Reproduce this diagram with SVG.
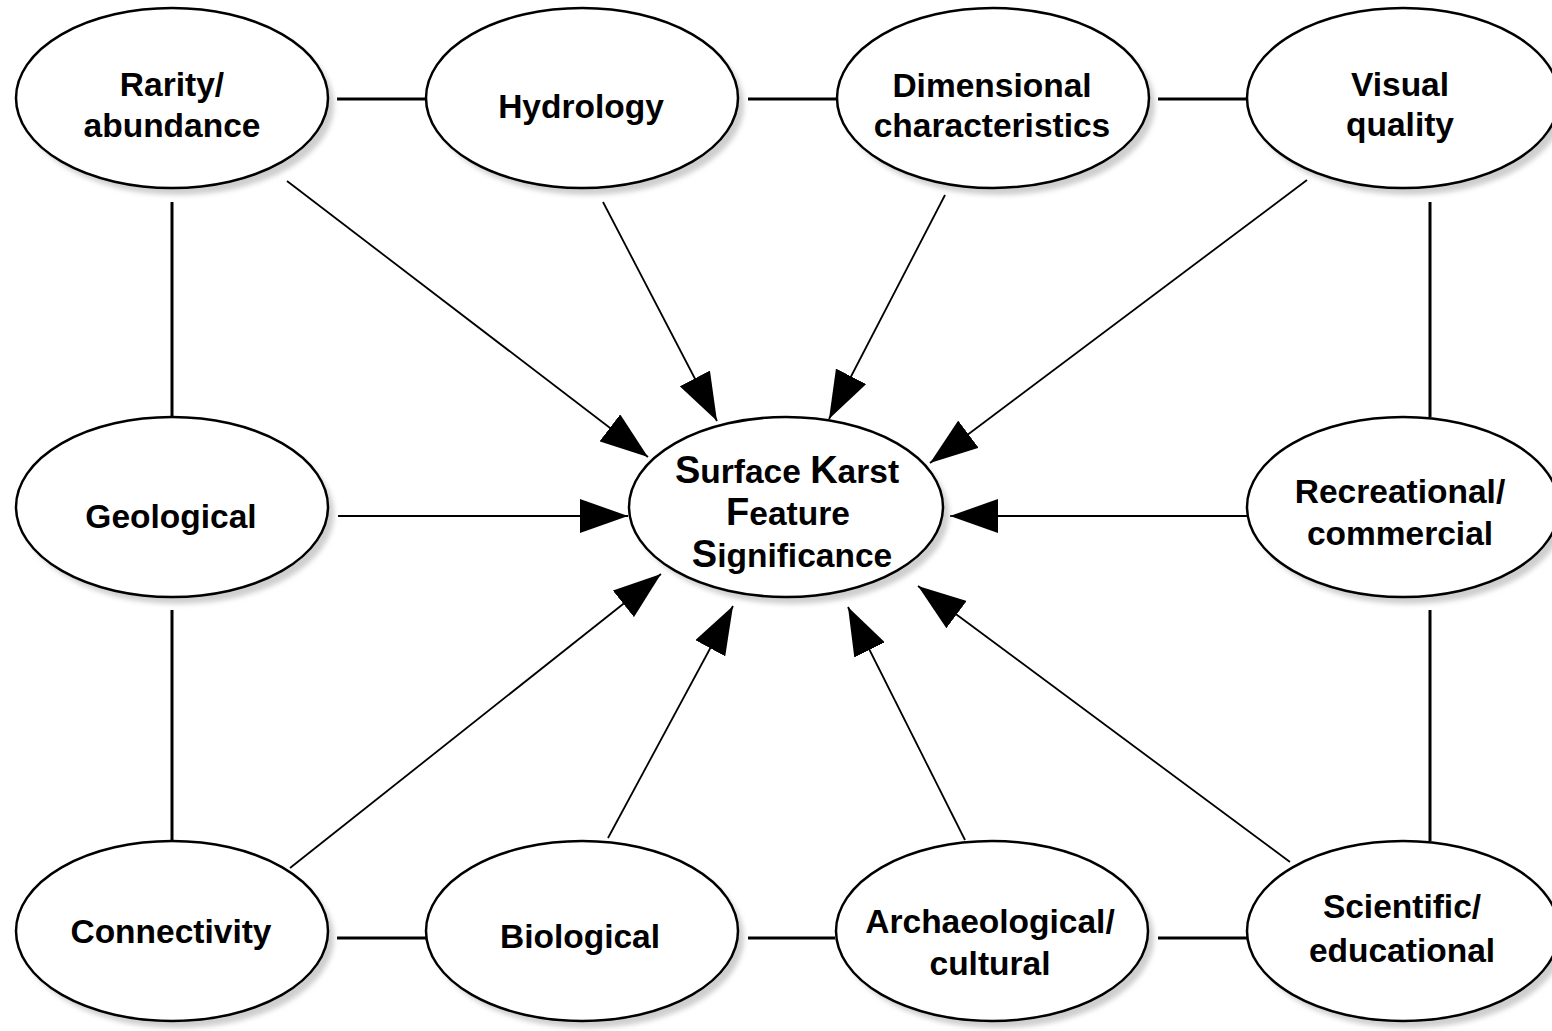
<svg xmlns="http://www.w3.org/2000/svg" width="1552" height="1031" viewBox="0 0 1552 1031">
<style>
.node ellipse.b{fill:#fff;stroke:#000;stroke-width:2.5}
.node ellipse.s{fill:#cfcfcf;filter:url(#blur)}
.node text{font-family:"Liberation Sans",Arial,sans-serif;font-weight:bold;font-size:33.5px;fill:#000;text-anchor:middle}
.link{stroke:#000;stroke-width:3;fill:none}
.arr{stroke:#000;stroke-width:1.8;fill:none;marker-end:url(#ah)}
.big{font-size:38px}
</style>
<defs>
<filter id="blur" x="-10%" y="-10%" width="120%" height="120%"><feGaussianBlur stdDeviation="2.5"/></filter>
<marker id="ah" markerUnits="userSpaceOnUse" markerWidth="48" markerHeight="34" refX="48" refY="17" orient="auto">
<path d="M0,0 L48,17 L0,34 Z" fill="#000"/>
</marker>
</defs>
<rect width="1552" height="1031" fill="#fff"/>

<g id="connectors">
<line class="link" x1="337" y1="99" x2="427" y2="99"/>
<line class="link" x1="748" y1="99" x2="837" y2="99"/>
<line class="link" x1="1158" y1="99" x2="1247" y2="99"/>
<line class="link" x1="337" y1="938" x2="427" y2="938"/>
<line class="link" x1="748" y1="938" x2="835" y2="938"/>
<line class="link" x1="1158" y1="938" x2="1247" y2="938"/>
<line class="link" x1="172" y1="202" x2="172" y2="417"/>
<line class="link" x1="172" y1="610" x2="172" y2="841"/>
<line class="link" x1="1430" y1="202" x2="1430" y2="417"/>
<line class="link" x1="1430" y1="610" x2="1430" y2="841"/>
<line class="arr" x1="287" y1="181" x2="648" y2="457"/>
<line class="arr" x1="603" y1="202" x2="717" y2="421"/>
<line class="arr" x1="945" y1="195" x2="829" y2="419"/>
<line class="arr" x1="1307" y1="180" x2="930" y2="463"/>
<line class="arr" x1="338" y1="516" x2="628" y2="516"/>
<line class="arr" x1="1247" y1="516" x2="950" y2="516"/>
<line class="arr" x1="290" y1="868" x2="661" y2="574"/>
<line class="arr" x1="608" y1="838" x2="733" y2="606"/>
<line class="arr" x1="965" y1="840" x2="848" y2="607"/>
<line class="arr" x1="1290" y1="862" x2="918" y2="586"/>
</g>

<g id="rarity" class="node">
<ellipse class="s" cx="178" cy="105" rx="156" ry="90"/>
<ellipse class="b" cx="172" cy="98" rx="156" ry="90"/>
<text x="172" y="96">Rarity/</text>
<text x="172" y="137">abundance</text>
</g>
<g id="hydrology" class="node">
<ellipse class="s" cx="588" cy="105" rx="156" ry="90"/>
<ellipse class="b" cx="582" cy="98" rx="156" ry="90"/>
<text x="581" y="118">Hydrology</text>
</g>
<g id="dimensional" class="node">
<ellipse class="s" cx="999" cy="105" rx="156" ry="90"/>
<ellipse class="b" cx="993" cy="98" rx="156" ry="90"/>
<text x="992" y="97">Dimensional</text>
<text x="992" y="137">characteristics</text>
</g>
<g id="visual" class="node">
<ellipse class="s" cx="1409" cy="105" rx="156" ry="90"/>
<ellipse class="b" cx="1403" cy="98" rx="156" ry="90"/>
<text x="1400" y="96">Visual</text>
<text x="1400" y="136">quality</text>
</g>
<g id="geological" class="node">
<ellipse class="s" cx="178" cy="514" rx="156" ry="90"/>
<ellipse class="b" cx="172" cy="507" rx="156" ry="90"/>
<text x="171" y="528">Geological</text>
</g>
<g id="center" class="node">
<ellipse class="s" cx="792" cy="514" rx="157" ry="90"/>
<ellipse class="b" cx="786" cy="507" rx="157" ry="90"/>
<text x="787" y="483"><tspan class="big">S</tspan>urface <tspan class="big">K</tspan>arst</text>
<text x="788" y="525"><tspan class="big">F</tspan>eature</text>
<text x="792" y="567"><tspan class="big">S</tspan>ignificance</text>
</g>
<g id="recreational" class="node">
<ellipse class="s" cx="1409" cy="514" rx="156" ry="90"/>
<ellipse class="b" cx="1403" cy="507" rx="156" ry="90"/>
<text x="1400" y="503">Recreational/</text>
<text x="1400" y="545">commercial</text>
</g>
<g id="connectivity" class="node">
<ellipse class="s" cx="178" cy="938" rx="156" ry="90"/>
<ellipse class="b" cx="172" cy="931" rx="156" ry="90"/>
<text x="171" y="943">Connectivity</text>
</g>
<g id="biological" class="node">
<ellipse class="s" cx="588" cy="938" rx="156" ry="90"/>
<ellipse class="b" cx="582" cy="931" rx="156" ry="90"/>
<text x="580" y="948">Biological</text>
</g>
<g id="archaeological" class="node">
<ellipse class="s" cx="998" cy="938" rx="156" ry="90"/>
<ellipse class="b" cx="992" cy="931" rx="156" ry="90"/>
<text x="990" y="933">Archaeological/</text>
<text x="990" y="975">cultural</text>
</g>
<g id="scientific" class="node">
<ellipse class="s" cx="1409" cy="938" rx="156" ry="90"/>
<ellipse class="b" cx="1403" cy="931" rx="156" ry="90"/>
<text x="1402" y="918">Scientific/</text>
<text x="1402" y="962">educational</text>
</g>
</svg>
